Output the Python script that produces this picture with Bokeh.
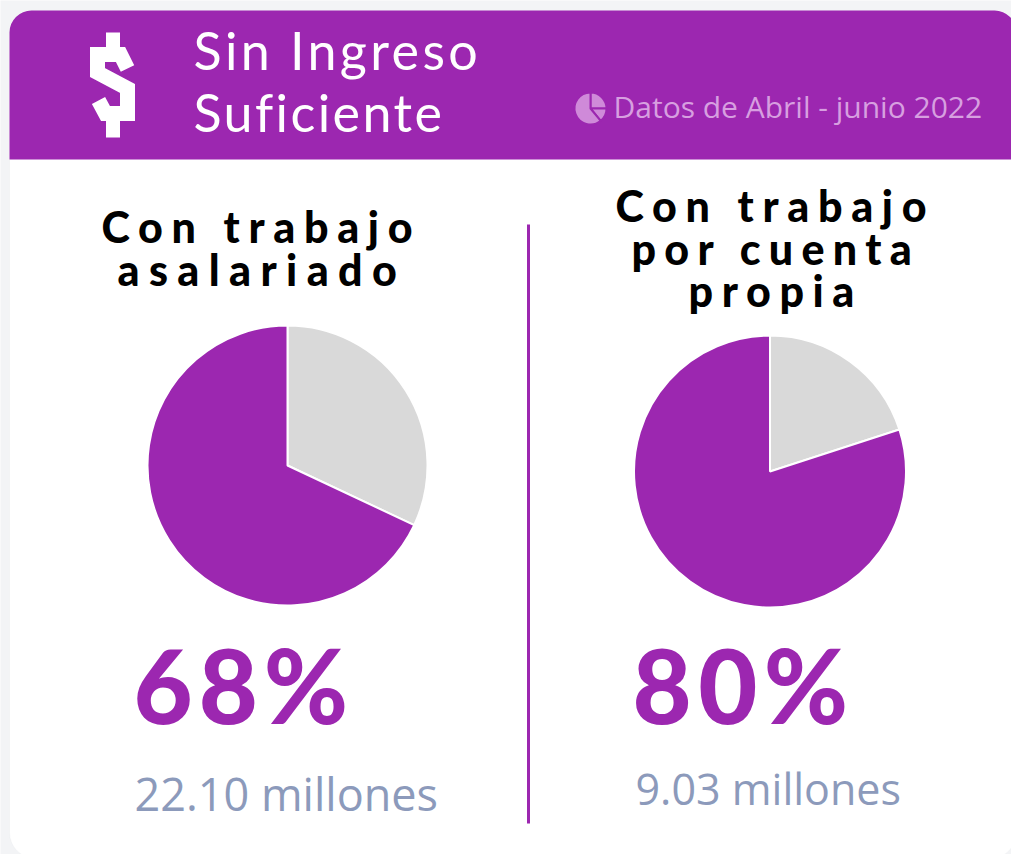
from bokeh.plotting import figure, curdoc
from bokeh.models import BoxAnnotation, ColumnDataSource, CustomJS, Range1d
from bokeh.core.properties import value
from bokeh.embed import file_html
from bokeh.resources import INLINE
import math

# ---- data ----
title_lines = ["Sin Ingreso", "Suficiente"]
period_label = "Datos de Abril - junio 2022"
left_heading = ["Con trabajo", "asalariado"]
right_heading = ["Con trabajo", "por cuenta", "propia"]
left_values = [32, 68]
right_values = [20, 80]
slice_colors = ["#d9d9d9", "#9c27b0"]
left_pct_label = "68%"
right_pct_label = "80%"
left_amount = "22.10 millones"
right_amount = "9.03 millones"

W, H = 1011, 854
PURPLE = "#9c27b0"
MUTED = "#8c9abb"


def Y(py):
    return H - py


p = figure(width=W, height=H, output_backend="svg", toolbar_location=None,
           x_range=Range1d(0, W), y_range=Range1d(0, H), min_border=0,
           background_fill_color="#f3f4f6", border_fill_color="#f3f4f6",
           outline_line_color=None)
p.axis.visible = False
p.grid.visible = False
p.styles = {"position": "absolute", "left": "0", "top": "0"}

p.add_layout(BoxAnnotation(left=9, right=1016, top=Y(10), bottom=Y(858), fill_color="white", fill_alpha=1,
                           line_color="#e6e7ea", line_width=1, border_radius=26, level="underlay"))
p.add_layout(BoxAnnotation(left=9, right=1016, top=Y(10), bottom=Y(159), fill_color=PURPLE, fill_alpha=1,
                           line_color=None, level="underlay",
                           border_radius={"top_left": 22, "top_right": 22,
                                          "bottom_left": 0, "bottom_right": 0}))


def pie(cx, cy, r, values, colors, line):
    total = sum(values)
    # clockwise from 12 o'clock, first value first
    ends, acc = [], 0
    for v in values:
        acc += v
        ends.append(acc)
    ang = lambda a: math.pi / 2 - 2 * math.pi * a / total
    src = ColumnDataSource(dict(
        x=[cx] * len(values), y=[Y(cy)] * len(values),
        start=[ang(e) for e in ends],
        end=[ang(e - v) for e, v in zip(ends, values)],
        color=colors))
    p.wedge(x="x", y="y", radius=r, start_angle="start", end_angle="end",
            fill_color="color", line_color=line, line_width=2, source=src)


pie(287, 465, 140, left_values, slice_colors, "white")
pie(769.5, 471, 136, right_values, slice_colors, "white")

# small pie icon in the header
pie(590, 108, 16, [25, 14, 61], ["#cf8ad9"] * 3, PURPLE)

# dollar icon in the header, a drawn shape like the icon it copies
icon_xs = [127, 120, 97, 97, 127, 127, 105, 98]
icon_ys = [68, 54, 54, 72, 88, 113, 113, 100]
p.line(x=icon_xs, y=[Y(v) for v in icon_ys], line_color="white", line_width=15, line_join="miter", line_cap="butt")
p.segment(x0=[112.5, 112.5], y0=[Y(32), Y(120)], x1=[112.5, 112.5], y1=[Y(50), Y(137)],
          line_color="white", line_width=14, line_cap="butt")

p.segment(x0=[528], y0=[Y(224)], x1=[528], y1=[Y(823)], line_color=PURPLE, line_width=3)


def label(x, py, text, font, size, color, style="normal"):
    # Bokeh sets this baseline about 0.41 em lower than the given y
    p.text(x=[x], y=[Y(py - 0.41 * size)], text=[text], text_font=value(font), text_font_size=f"{size}px",
           text_color=color, text_font_style=style, text_align="left", text_baseline="alphabetic")


label(193, 71, title_lines[0], "Lato", 52, "white")
label(193, 133, title_lines[1], "Lato", 52, "white")
label(613, 118, period_label, "Open Sans", 30, "#d79fe0")

for x, py, t in zip([101, 117], [244, 287], left_heading):
    label(x, py, t, "Lato Black", 43, "black")
for x, py, t in zip([615, 631, 688], [223, 266, 308], right_heading):
    label(x, py, t, "Lato Black", 43, "black")

label(133, 726, left_pct_label, "Lato Black", 102, PURPLE)
label(632, 726, right_pct_label, "Lato Black", 102, PURPLE)
label(134, 811, left_amount, "Open Sans", 45, MUTED)
label(635, 806, right_amount, "Open Sans", 43, MUTED)

spaced_texts = ["Sin Ingreso", "Suficiente", "Con trabajo", "asalariado", "por cuenta", "propia", left_pct_label, right_pct_label]
spaced_gaps = [3.4, 2.4, 8.7, 9.4, 8.3, 8.6, 6, 6.5]
doc = curdoc()
doc.add_root(p)
doc.js_on_event("document_ready", CustomJS(args=dict(names=spaced_texts, gaps=spaced_gaps), code="""
    function walk(root) {
        root.querySelectorAll('*').forEach(function (el) {
            if (el.tagName === 'text') {
                var i = names.indexOf(el.textContent);
                if (i >= 0) el.setAttribute('letter-spacing', gaps[i]);
            }
            if (el.shadowRoot) walk(el.shadowRoot);
        });
    }
    [0, 100, 400].forEach(function (t) { setTimeout(function () { walk(document); }, t); });
"""))

open("out.html", "w").write(file_html(p, INLINE))
